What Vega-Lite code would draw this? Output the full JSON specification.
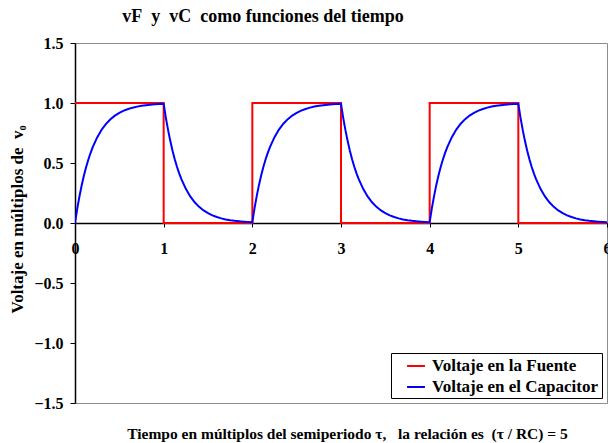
{
  "$schema": "https://vega.github.io/schema/vega-lite/v6.json",
  "width": 532,
  "height": 360,
  "autosize": {"type": "none"},
  "padding": {"left": 75, "top": 43, "right": 1, "bottom": 40},
  "background": "white",
  "config": {
    "font": "Liberation Serif",
    "view": {"stroke": "#8c8c8c", "strokeWidth": 1},
    "axis": {"grid": false}
  },
  "title": {
    "text": "vF\u00a0\u00a0y\u00a0\u00a0vC\u00a0\u00a0como funciones del tiempo",
    "font": "Liberation Serif",
    "fontSize": 18,
    "fontWeight": "bold",
    "color": "black",
    "anchor": "middle",
    "dx": -78,
    "offset": 9
  },
  "data": {
    "values": [
      {"i": 0, "t": 0, "v": 1, "serie": "Voltaje en la Fuente"},
      {"i": 1, "t": 1, "v": 1, "serie": "Voltaje en la Fuente"},
      {"i": 2, "t": 1, "v": 0, "serie": "Voltaje en la Fuente"},
      {"i": 3, "t": 2, "v": 0, "serie": "Voltaje en la Fuente"},
      {"i": 4, "t": 2, "v": 1, "serie": "Voltaje en la Fuente"},
      {"i": 5, "t": 3, "v": 1, "serie": "Voltaje en la Fuente"},
      {"i": 6, "t": 3, "v": 0, "serie": "Voltaje en la Fuente"},
      {"i": 7, "t": 4, "v": 0, "serie": "Voltaje en la Fuente"},
      {"i": 8, "t": 4, "v": 1, "serie": "Voltaje en la Fuente"},
      {"i": 9, "t": 5, "v": 1, "serie": "Voltaje en la Fuente"},
      {"i": 10, "t": 5, "v": 0, "serie": "Voltaje en la Fuente"},
      {"i": 11, "t": 6, "v": 0, "serie": "Voltaje en la Fuente"},

      {"i": 0, "t": 0, "v": 0, "serie": "Voltaje en el Capacitor"},
      {"i": 1, "t": 0.025, "v": 0.1175, "serie": "Voltaje en el Capacitor"},
      {"i": 2, "t": 0.05, "v": 0.2212, "serie": "Voltaje en el Capacitor"},
      {"i": 3, "t": 0.075, "v": 0.3127, "serie": "Voltaje en el Capacitor"},
      {"i": 4, "t": 0.1, "v": 0.3935, "serie": "Voltaje en el Capacitor"},
      {"i": 5, "t": 0.125, "v": 0.4647, "serie": "Voltaje en el Capacitor"},
      {"i": 6, "t": 0.15, "v": 0.5276, "serie": "Voltaje en el Capacitor"},
      {"i": 7, "t": 0.175, "v": 0.5831, "serie": "Voltaje en el Capacitor"},
      {"i": 8, "t": 0.2, "v": 0.6321, "serie": "Voltaje en el Capacitor"},
      {"i": 9, "t": 0.25, "v": 0.7135, "serie": "Voltaje en el Capacitor"},
      {"i": 10, "t": 0.3, "v": 0.7769, "serie": "Voltaje en el Capacitor"},
      {"i": 11, "t": 0.35, "v": 0.8262, "serie": "Voltaje en el Capacitor"},
      {"i": 12, "t": 0.4, "v": 0.8647, "serie": "Voltaje en el Capacitor"},
      {"i": 13, "t": 0.45, "v": 0.8946, "serie": "Voltaje en el Capacitor"},
      {"i": 14, "t": 0.5, "v": 0.9179, "serie": "Voltaje en el Capacitor"},
      {"i": 15, "t": 0.55, "v": 0.9361, "serie": "Voltaje en el Capacitor"},
      {"i": 16, "t": 0.6, "v": 0.9502, "serie": "Voltaje en el Capacitor"},
      {"i": 17, "t": 0.65, "v": 0.9612, "serie": "Voltaje en el Capacitor"},
      {"i": 18, "t": 0.7, "v": 0.9698, "serie": "Voltaje en el Capacitor"},
      {"i": 19, "t": 0.75, "v": 0.9765, "serie": "Voltaje en el Capacitor"},
      {"i": 20, "t": 0.8, "v": 0.9817, "serie": "Voltaje en el Capacitor"},
      {"i": 21, "t": 0.85, "v": 0.9857, "serie": "Voltaje en el Capacitor"},
      {"i": 22, "t": 0.9, "v": 0.9889, "serie": "Voltaje en el Capacitor"},
      {"i": 23, "t": 0.95, "v": 0.9913, "serie": "Voltaje en el Capacitor"},
      {"i": 24, "t": 1.0, "v": 0.9933, "serie": "Voltaje en el Capacitor"},

      {"i": 25, "t": 1.025, "v": 0.8766, "serie": "Voltaje en el Capacitor"},
      {"i": 26, "t": 1.05, "v": 0.7736, "serie": "Voltaje en el Capacitor"},
      {"i": 27, "t": 1.075, "v": 0.6827, "serie": "Voltaje en el Capacitor"},
      {"i": 28, "t": 1.1, "v": 0.6024, "serie": "Voltaje en el Capacitor"},
      {"i": 29, "t": 1.125, "v": 0.5317, "serie": "Voltaje en el Capacitor"},
      {"i": 30, "t": 1.15, "v": 0.4692, "serie": "Voltaje en el Capacitor"},
      {"i": 31, "t": 1.175, "v": 0.4141, "serie": "Voltaje en el Capacitor"},
      {"i": 32, "t": 1.2, "v": 0.3654, "serie": "Voltaje en el Capacitor"},
      {"i": 33, "t": 1.25, "v": 0.2846, "serie": "Voltaje en el Capacitor"},
      {"i": 34, "t": 1.3, "v": 0.2216, "serie": "Voltaje en el Capacitor"},
      {"i": 35, "t": 1.35, "v": 0.1726, "serie": "Voltaje en el Capacitor"},
      {"i": 36, "t": 1.4, "v": 0.1344, "serie": "Voltaje en el Capacitor"},
      {"i": 37, "t": 1.45, "v": 0.1047, "serie": "Voltaje en el Capacitor"},
      {"i": 38, "t": 1.5, "v": 0.0815, "serie": "Voltaje en el Capacitor"},
      {"i": 39, "t": 1.55, "v": 0.0635, "serie": "Voltaje en el Capacitor"},
      {"i": 40, "t": 1.6, "v": 0.0495, "serie": "Voltaje en el Capacitor"},
      {"i": 41, "t": 1.65, "v": 0.0385, "serie": "Voltaje en el Capacitor"},
      {"i": 42, "t": 1.7, "v": 0.0300, "serie": "Voltaje en el Capacitor"},
      {"i": 43, "t": 1.75, "v": 0.0233, "serie": "Voltaje en el Capacitor"},
      {"i": 44, "t": 1.8, "v": 0.0182, "serie": "Voltaje en el Capacitor"},
      {"i": 45, "t": 1.85, "v": 0.0142, "serie": "Voltaje en el Capacitor"},
      {"i": 46, "t": 1.9, "v": 0.0110, "serie": "Voltaje en el Capacitor"},
      {"i": 47, "t": 1.95, "v": 0.0086, "serie": "Voltaje en el Capacitor"},
      {"i": 48, "t": 2.0, "v": 0.0067, "serie": "Voltaje en el Capacitor"},

      {"i": 49, "t": 2.025, "v": 0.1234, "serie": "Voltaje en el Capacitor"},
      {"i": 50, "t": 2.05, "v": 0.2264, "serie": "Voltaje en el Capacitor"},
      {"i": 51, "t": 2.075, "v": 0.3173, "serie": "Voltaje en el Capacitor"},
      {"i": 52, "t": 2.1, "v": 0.3976, "serie": "Voltaje en el Capacitor"},
      {"i": 53, "t": 2.125, "v": 0.4683, "serie": "Voltaje en el Capacitor"},
      {"i": 54, "t": 2.15, "v": 0.5308, "serie": "Voltaje en el Capacitor"},
      {"i": 55, "t": 2.175, "v": 0.5859, "serie": "Voltaje en el Capacitor"},
      {"i": 56, "t": 2.2, "v": 0.6346, "serie": "Voltaje en el Capacitor"},
      {"i": 57, "t": 2.25, "v": 0.7154, "serie": "Voltaje en el Capacitor"},
      {"i": 58, "t": 2.3, "v": 0.7784, "serie": "Voltaje en el Capacitor"},
      {"i": 59, "t": 2.35, "v": 0.8274, "serie": "Voltaje en el Capacitor"},
      {"i": 60, "t": 2.4, "v": 0.8656, "serie": "Voltaje en el Capacitor"},
      {"i": 61, "t": 2.45, "v": 0.8953, "serie": "Voltaje en el Capacitor"},
      {"i": 62, "t": 2.5, "v": 0.9185, "serie": "Voltaje en el Capacitor"},
      {"i": 63, "t": 2.55, "v": 0.9365, "serie": "Voltaje en el Capacitor"},
      {"i": 64, "t": 2.6, "v": 0.9505, "serie": "Voltaje en el Capacitor"},
      {"i": 65, "t": 2.65, "v": 0.9615, "serie": "Voltaje en el Capacitor"},
      {"i": 66, "t": 2.7, "v": 0.9700, "serie": "Voltaje en el Capacitor"},
      {"i": 67, "t": 2.75, "v": 0.9767, "serie": "Voltaje en el Capacitor"},
      {"i": 68, "t": 2.8, "v": 0.9818, "serie": "Voltaje en el Capacitor"},
      {"i": 69, "t": 2.85, "v": 0.9858, "serie": "Voltaje en el Capacitor"},
      {"i": 70, "t": 2.9, "v": 0.9890, "serie": "Voltaje en el Capacitor"},
      {"i": 71, "t": 2.95, "v": 0.9914, "serie": "Voltaje en el Capacitor"},
      {"i": 72, "t": 3.0, "v": 0.9933, "serie": "Voltaje en el Capacitor"},

      {"i": 73, "t": 3.025, "v": 0.8766, "serie": "Voltaje en el Capacitor"},
      {"i": 74, "t": 3.05, "v": 0.7736, "serie": "Voltaje en el Capacitor"},
      {"i": 75, "t": 3.075, "v": 0.6827, "serie": "Voltaje en el Capacitor"},
      {"i": 76, "t": 3.1, "v": 0.6024, "serie": "Voltaje en el Capacitor"},
      {"i": 77, "t": 3.125, "v": 0.5317, "serie": "Voltaje en el Capacitor"},
      {"i": 78, "t": 3.15, "v": 0.4692, "serie": "Voltaje en el Capacitor"},
      {"i": 79, "t": 3.175, "v": 0.4141, "serie": "Voltaje en el Capacitor"},
      {"i": 80, "t": 3.2, "v": 0.3654, "serie": "Voltaje en el Capacitor"},
      {"i": 81, "t": 3.25, "v": 0.2846, "serie": "Voltaje en el Capacitor"},
      {"i": 82, "t": 3.3, "v": 0.2216, "serie": "Voltaje en el Capacitor"},
      {"i": 83, "t": 3.35, "v": 0.1726, "serie": "Voltaje en el Capacitor"},
      {"i": 84, "t": 3.4, "v": 0.1344, "serie": "Voltaje en el Capacitor"},
      {"i": 85, "t": 3.45, "v": 0.1047, "serie": "Voltaje en el Capacitor"},
      {"i": 86, "t": 3.5, "v": 0.0815, "serie": "Voltaje en el Capacitor"},
      {"i": 87, "t": 3.55, "v": 0.0635, "serie": "Voltaje en el Capacitor"},
      {"i": 88, "t": 3.6, "v": 0.0495, "serie": "Voltaje en el Capacitor"},
      {"i": 89, "t": 3.65, "v": 0.0385, "serie": "Voltaje en el Capacitor"},
      {"i": 90, "t": 3.7, "v": 0.0300, "serie": "Voltaje en el Capacitor"},
      {"i": 91, "t": 3.75, "v": 0.0233, "serie": "Voltaje en el Capacitor"},
      {"i": 92, "t": 3.8, "v": 0.0182, "serie": "Voltaje en el Capacitor"},
      {"i": 93, "t": 3.85, "v": 0.0142, "serie": "Voltaje en el Capacitor"},
      {"i": 94, "t": 3.9, "v": 0.0110, "serie": "Voltaje en el Capacitor"},
      {"i": 95, "t": 3.95, "v": 0.0086, "serie": "Voltaje en el Capacitor"},
      {"i": 96, "t": 4.0, "v": 0.0067, "serie": "Voltaje en el Capacitor"},

      {"i": 97, "t": 4.025, "v": 0.1234, "serie": "Voltaje en el Capacitor"},
      {"i": 98, "t": 4.05, "v": 0.2264, "serie": "Voltaje en el Capacitor"},
      {"i": 99, "t": 4.075, "v": 0.3173, "serie": "Voltaje en el Capacitor"},
      {"i": 100, "t": 4.1, "v": 0.3976, "serie": "Voltaje en el Capacitor"},
      {"i": 101, "t": 4.125, "v": 0.4683, "serie": "Voltaje en el Capacitor"},
      {"i": 102, "t": 4.15, "v": 0.5308, "serie": "Voltaje en el Capacitor"},
      {"i": 103, "t": 4.175, "v": 0.5859, "serie": "Voltaje en el Capacitor"},
      {"i": 104, "t": 4.2, "v": 0.6346, "serie": "Voltaje en el Capacitor"},
      {"i": 105, "t": 4.25, "v": 0.7154, "serie": "Voltaje en el Capacitor"},
      {"i": 106, "t": 4.3, "v": 0.7784, "serie": "Voltaje en el Capacitor"},
      {"i": 107, "t": 4.35, "v": 0.8274, "serie": "Voltaje en el Capacitor"},
      {"i": 108, "t": 4.4, "v": 0.8656, "serie": "Voltaje en el Capacitor"},
      {"i": 109, "t": 4.45, "v": 0.8953, "serie": "Voltaje en el Capacitor"},
      {"i": 110, "t": 4.5, "v": 0.9185, "serie": "Voltaje en el Capacitor"},
      {"i": 111, "t": 4.55, "v": 0.9365, "serie": "Voltaje en el Capacitor"},
      {"i": 112, "t": 4.6, "v": 0.9505, "serie": "Voltaje en el Capacitor"},
      {"i": 113, "t": 4.65, "v": 0.9615, "serie": "Voltaje en el Capacitor"},
      {"i": 114, "t": 4.7, "v": 0.9700, "serie": "Voltaje en el Capacitor"},
      {"i": 115, "t": 4.75, "v": 0.9767, "serie": "Voltaje en el Capacitor"},
      {"i": 116, "t": 4.8, "v": 0.9818, "serie": "Voltaje en el Capacitor"},
      {"i": 117, "t": 4.85, "v": 0.9858, "serie": "Voltaje en el Capacitor"},
      {"i": 118, "t": 4.9, "v": 0.9890, "serie": "Voltaje en el Capacitor"},
      {"i": 119, "t": 4.95, "v": 0.9914, "serie": "Voltaje en el Capacitor"},
      {"i": 120, "t": 5.0, "v": 0.9933, "serie": "Voltaje en el Capacitor"},

      {"i": 121, "t": 5.025, "v": 0.8766, "serie": "Voltaje en el Capacitor"},
      {"i": 122, "t": 5.05, "v": 0.7736, "serie": "Voltaje en el Capacitor"},
      {"i": 123, "t": 5.075, "v": 0.6827, "serie": "Voltaje en el Capacitor"},
      {"i": 124, "t": 5.1, "v": 0.6024, "serie": "Voltaje en el Capacitor"},
      {"i": 125, "t": 5.125, "v": 0.5317, "serie": "Voltaje en el Capacitor"},
      {"i": 126, "t": 5.15, "v": 0.4692, "serie": "Voltaje en el Capacitor"},
      {"i": 127, "t": 5.175, "v": 0.4141, "serie": "Voltaje en el Capacitor"},
      {"i": 128, "t": 5.2, "v": 0.3654, "serie": "Voltaje en el Capacitor"},
      {"i": 129, "t": 5.25, "v": 0.2846, "serie": "Voltaje en el Capacitor"},
      {"i": 130, "t": 5.3, "v": 0.2216, "serie": "Voltaje en el Capacitor"},
      {"i": 131, "t": 5.35, "v": 0.1726, "serie": "Voltaje en el Capacitor"},
      {"i": 132, "t": 5.4, "v": 0.1344, "serie": "Voltaje en el Capacitor"},
      {"i": 133, "t": 5.45, "v": 0.1047, "serie": "Voltaje en el Capacitor"},
      {"i": 134, "t": 5.5, "v": 0.0815, "serie": "Voltaje en el Capacitor"},
      {"i": 135, "t": 5.55, "v": 0.0635, "serie": "Voltaje en el Capacitor"},
      {"i": 136, "t": 5.6, "v": 0.0495, "serie": "Voltaje en el Capacitor"},
      {"i": 137, "t": 5.65, "v": 0.0385, "serie": "Voltaje en el Capacitor"},
      {"i": 138, "t": 5.7, "v": 0.0300, "serie": "Voltaje en el Capacitor"},
      {"i": 139, "t": 5.75, "v": 0.0233, "serie": "Voltaje en el Capacitor"},
      {"i": 140, "t": 5.8, "v": 0.0182, "serie": "Voltaje en el Capacitor"},
      {"i": 141, "t": 5.85, "v": 0.0142, "serie": "Voltaje en el Capacitor"},
      {"i": 142, "t": 5.9, "v": 0.0110, "serie": "Voltaje en el Capacitor"},
      {"i": 143, "t": 5.95, "v": 0.0086, "serie": "Voltaje en el Capacitor"},
      {"i": 144, "t": 6.0, "v": 0.0067, "serie": "Voltaje en el Capacitor"}
    ]
  },
  "mark": {"type": "line", "strokeWidth": 2, "clip": true},
  "encoding": {
    "x": {
      "field": "t",
      "type": "quantitative",
      "scale": {"domain": [0, 6], "nice": false, "zero": false},
      "axis": {
        "values": [0, 1, 2, 3, 4, 5, 6],
        "format": "d",
        "offset": -180,
        "domainColor": "black",
        "domainWidth": 1.5,
        "tickColor": "black",
        "tickSize": 4,
        "labelFlush": false,
        "labelPadding": 13,
        "labelFont": "Liberation Serif",
        "labelFontSize": 16,
        "labelFontWeight": "bold",
        "labelColor": "black",
        "title": "Tiempo en múltiplos del semiperiodo τ,\u00a0\u00a0\u00a0la relación es\u00a0\u00a0(τ / RC) = 5",
        "titleFont": "Liberation Serif",
        "titleFontSize": 15.5,
        "titleFontWeight": "bold",
        "titleColor": "black",
        "titleX": 272,
        "titleY": 210,
        "titleBaseline": "middle",
        "titleAnchor": "middle"
      }
    },
    "y": {
      "field": "v",
      "type": "quantitative",
      "scale": {"domain": [-1.5, 1.5], "nice": false},
      "axis": {
        "values": [-1.5, -1.0, -0.5, 0, 0.5, 1.0, 1.5],
        "format": ".1f",
        "domainColor": "black",
        "domainWidth": 1.5,
        "tickColor": "black",
        "tickSize": 5,
        "labelPadding": 7,
        "labelFont": "Liberation Serif",
        "labelFontSize": 16,
        "labelFontWeight": "bold",
        "labelColor": "black",
        "title": "Voltaje en múltiplos de\u00a0\u00a0v₀",
        "titleFont": "Liberation Serif",
        "titleFontSize": 17,
        "titleFontWeight": "bold",
        "titleColor": "black",
        "titleX": -58,
        "titleY": 176,
        "titleAngle": -90,
        "titleBaseline": "middle",
        "titleAnchor": "middle"
      }
    },
    "color": {
      "field": "serie",
      "type": "nominal",
      "scale": {
        "domain": ["Voltaje en la Fuente", "Voltaje en el Capacitor"],
        "range": ["#ff0000", "#0000ff"]
      },
      "legend": {
        "title": null,
        "orient": "bottom-right",
        "offset": 5,
        "padding": 3,
        "strokeColor": "black",
        "fillColor": "white",
        "symbolType": "stroke",
        "symbolSize": 320,
        "symbolStrokeWidth": 2,
        "symbolOffset": 12,
        "labelOffset": 6,
        "labelFont": "Liberation Serif",
        "labelFontSize": 17,
        "labelFontWeight": "bold",
        "labelColor": "black",
        "rowPadding": 3,
        "labelLimit": 300
      }
    },
    "order": {"field": "i", "type": "quantitative"}
  }
}
